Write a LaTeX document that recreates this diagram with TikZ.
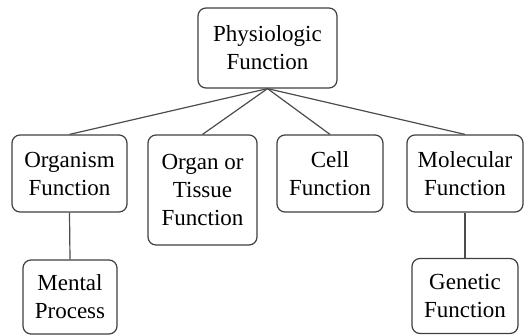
\documentclass[tikz,border=0pt]{standalone}
\usepackage{fontspec}
\setmainfont{Liberation Serif}
\begin{document}
\begin{tikzpicture}[x=1pt,y=-1pt,
  box/.style={draw=black!75, line width=1.2pt, rounded corners=8pt, fill=white,
    align=center, inner sep=0pt, font=\fontsize{23}{28}\selectfont, text=black},
  link/.style={draw=black!70, line width=1.2pt}]
\useasboundingbox (0,0) rectangle (524,335);
\node[box, minimum width=139pt, minimum height=80pt] (top) at (267.5,48) {Physiologic\\Function};
\node[box, minimum width=115pt, minimum height=77pt] (org) at (69.5,173.5) {Organism\\Function};
\node[box, minimum width=109pt, minimum height=110pt] (tis) at (202.5,190) {Organ or\\Tissue\\Function};
\node[box, minimum width=106pt, minimum height=77pt] (cell) at (330,173.5) {Cell\\Function};
\node[box, minimum width=116pt, minimum height=77pt] (mol) at (465,173.5) {Molecular\\Function};
\node[box, minimum width=94pt, minimum height=74pt] (ment) at (70,297) {Mental\\Process};
\node[box, minimum width=106pt, minimum height=75pt] (gen) at (465,296) {Genetic\\Function};
\foreach \n in {org,tis,cell,mol} \draw[link] (top.south) -- (\n.north);
\draw[link] (org.south) -- (ment.north);
\draw[link] (mol.south) -- (gen.north);
\end{tikzpicture}
\end{document}
